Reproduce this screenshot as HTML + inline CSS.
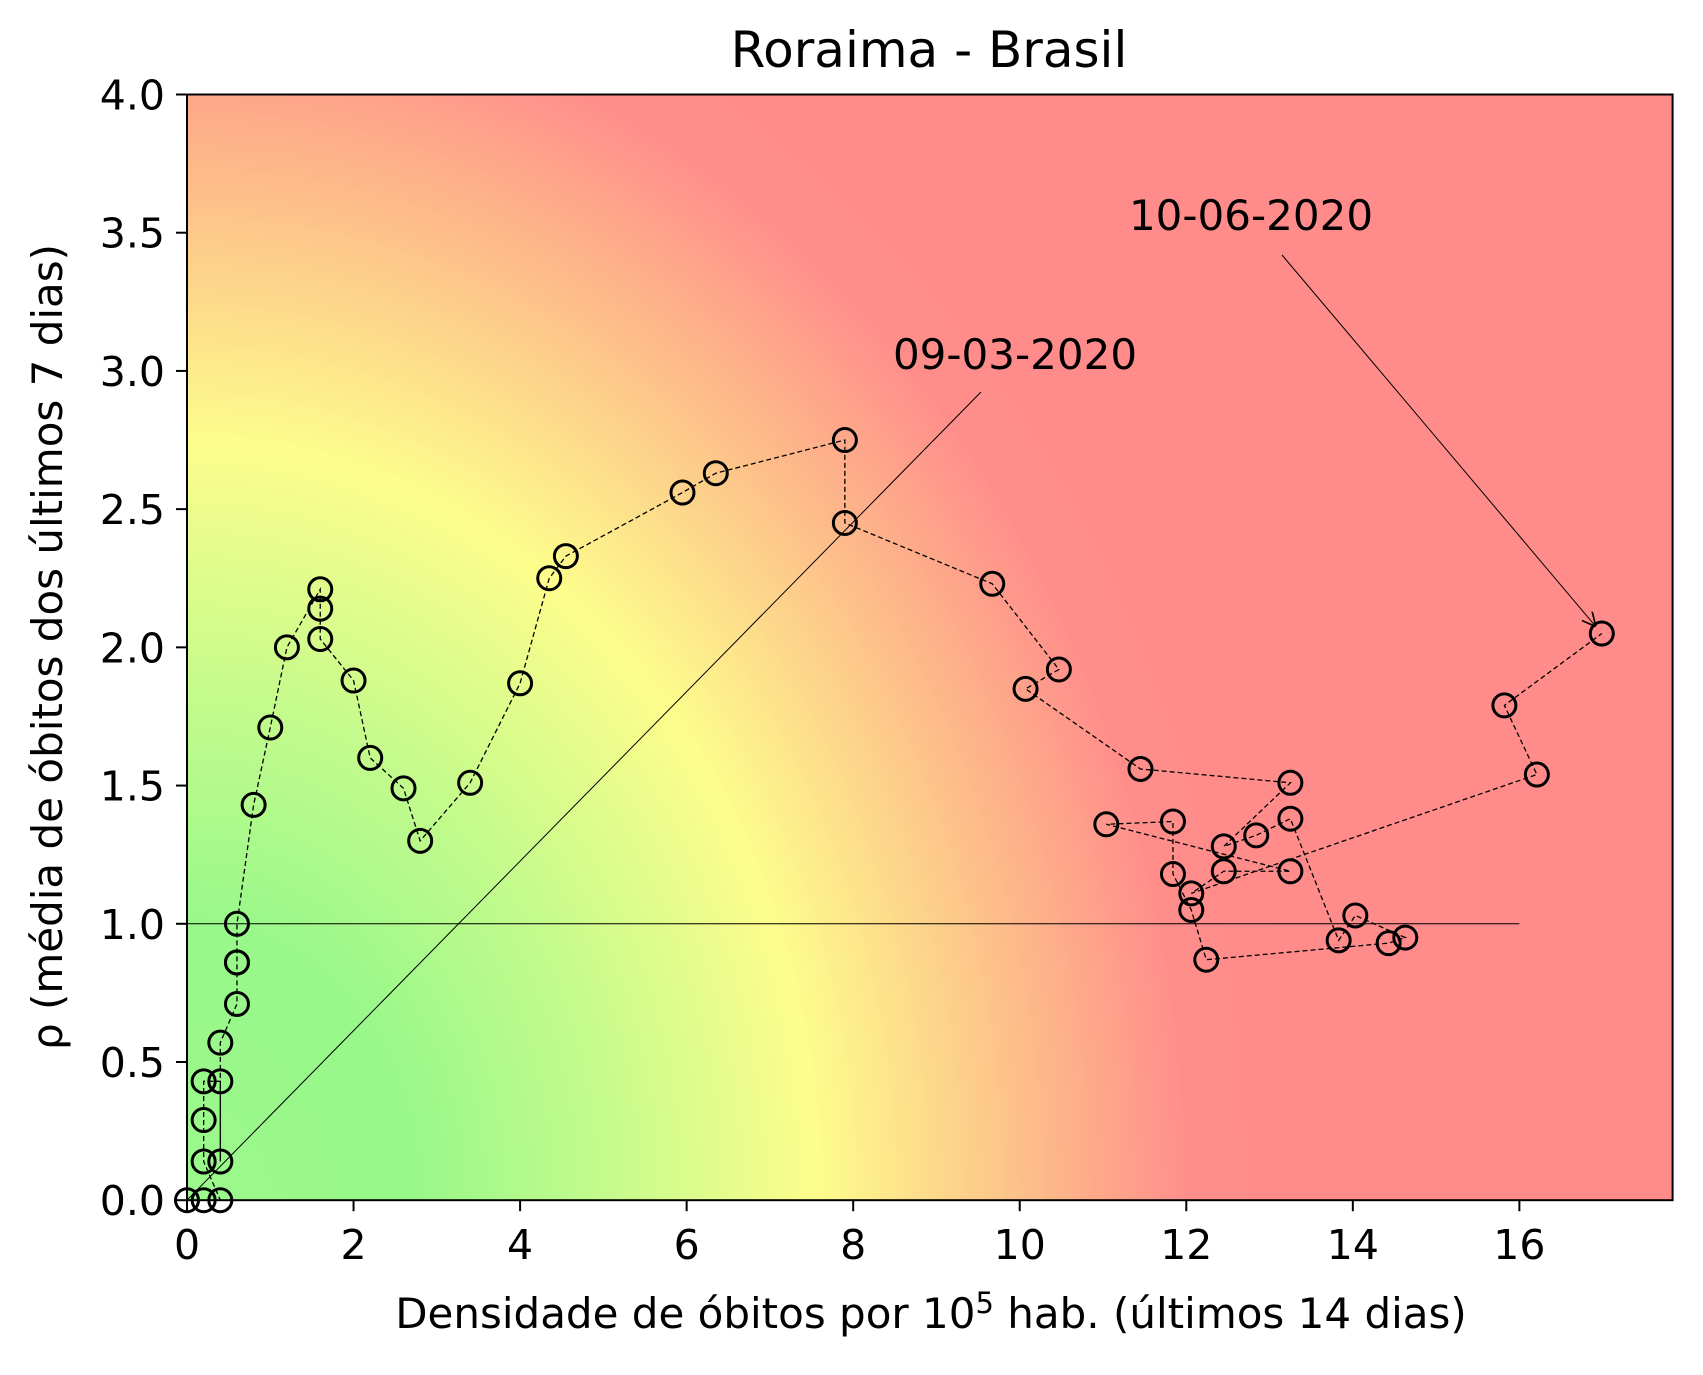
<!DOCTYPE html>
<html><head><meta charset="utf-8"><style>
body{margin:0;background:#fff;}
svg text{font-family:"DejaVu Sans","Liberation Sans",sans-serif;fill:#000;}
</style></head><body>
<svg id="chart" width="1703" height="1370" viewBox="0 0 1703 1370" xmlns="http://www.w3.org/2000/svg">
<defs>
<radialGradient id="bg" gradientUnits="userSpaceOnUse" cx="0" cy="0" r="1" fx="0" fy="0">
<stop offset="0" stop-color="#9cf98c"/>
<stop offset="0.2" stop-color="#98f88a"/>
<stop offset="0.38" stop-color="#c6fb8c"/>
<stop offset="0.56" stop-color="#fdfd8c"/>
<stop offset="0.75" stop-color="#fdbd8a"/>
<stop offset="0.89" stop-color="#ff8e8b"/>
<stop offset="1" stop-color="#ff8b8b"/>
</radialGradient>
<marker id="ah" viewBox="0 0 10 10" refX="10" refY="5" markerWidth="14" markerHeight="14" markerUnits="userSpaceOnUse" orient="auto">
<path d="M0,0 L10,5 L0,10" fill="none" stroke="#000" stroke-width="1.2"/>
</marker>
</defs>
<text x="929" y="67" font-size="50" text-anchor="middle">Roraima - Brasil</text>
<rect id="plotbg" fill="url(#bg)"/>
<g id="marks"></g>
<g id="axes"></g>
<text x="931" y="1328" font-size="42" text-anchor="middle">Densidade de óbitos por 10<tspan dy="-15" font-size="29">5</tspan><tspan dy="15"> hab. (últimos 14 dias)</tspan></text>
<text transform="translate(62,647) rotate(-90)" font-size="42" text-anchor="middle">ρ (média de óbitos dos últimos 7 dias)</text>
</svg>
<script>
const xs=[0,0.2,0.4,0.2,0.2,0.2,0.4,0.4,0.4,0.6,0.6,0.6,0.6,0.8,1.0,1.2,1.6,1.6,1.6,2.0,2.2,2.6,2.8,3.4,4.0,4.35,4.55,5.95,6.35,7.9,7.9,9.67,10.47,10.07,11.45,13.25,12.45,12.84,13.25,13.83,14.03,14.63,14.43,12.24,12.06,11.84,11.84,11.04,13.25,12.45,12.06,16.21,15.82,16.99];
const ys=[0,0,0,0.14,0.29,0.43,0.43,0.14,0.57,0.71,0.86,0.86,1.0,1.43,1.71,2.0,2.21,2.14,2.03,1.88,1.6,1.49,1.3,1.51,1.87,2.25,2.33,2.56,2.63,2.75,2.45,2.23,1.92,1.85,1.56,1.51,1.28,1.32,1.38,0.94,1.03,0.95,0.93,0.87,1.05,1.18,1.37,1.36,1.19,1.19,1.11,1.54,1.79,2.05];
const xTicks=[0,2,4,6,8,10,12,14,16];
const yTicks=[0,0.5,1,1.5,2,2.5,3,3.5,4];
const xMax=17.84, yMax=4;
const L=187,R=1672.6,T=94.5,B=1200.2;
const sx=v=>L+(R-L)*v/xMax, sy=v=>B-(B-T)*v/yMax;
const NS="http://www.w3.org/2000/svg";
function mk(t,a,p){const e=document.createElementNS(NS,t);for(const k in a)e.setAttribute(k,a[k]);p.appendChild(e);return e;}
const bg=document.getElementById('plotbg');
bg.setAttribute('x',L);bg.setAttribute('y',T);bg.setAttribute('width',R-L);bg.setAttribute('height',B-T);
const g=document.getElementById('bg');
g.setAttribute('gradientTransform',`translate(${sx(0)},${sy(0)}) scale(${sx(13.5)-sx(0)},${sy(0)-sy(4.9)})`);
const m=document.getElementById('marks');
const hl=mk('line',{x1:sx(0),y1:sy(1),x2:sx(16),y2:sy(1),stroke:'#000','stroke-width':1},m);


const a1=mk('line',{x1:981,y1:392,x2:sx(xs[0]),y2:sy(ys[0]),stroke:'#000','stroke-width':1},m);


const a2=mk('line',{x1:1282,y1:255,x2:sx(xs[xs.length-1])-6,y2:sy(ys[ys.length-1])-7,stroke:'#000','stroke-width':1,'marker-end':'url(#ah)'},m);


const t1=mk('text',{x:1015,y:369,'font-size':42,'text-anchor':'middle'},m);t1.textContent='09-03-2020';


const t2=mk('text',{x:1251,y:230,'font-size':42,'text-anchor':'middle'},m);t2.textContent='10-06-2020';


const pl=mk('polyline',{points:xs.map((x,i)=>sx(x)+','+sy(ys[i])).join(' '),fill:'none',stroke:'#000','stroke-width':1.3,'stroke-dasharray':'5,3'},m);


xs.forEach((x,i)=>{const c=mk('circle',{cx:sx(x),cy:sy(ys[i]),r:11.5,fill:'none',stroke:'#000','stroke-width':3},m);

});
const ax=document.getElementById('axes');
const fr=mk('rect',{x:L,y:T,width:R-L,height:B-T,fill:'none',stroke:'#000','stroke-width':2},ax);


xTicks.forEach(v=>{mk('line',{x1:sx(v),y1:B,x2:sx(v),y2:B+11,stroke:'#000','stroke-width':2},ax);
const t=mk('text',{x:sx(v),y:B+59,'font-size':41,'text-anchor':'middle'},ax);t.textContent=v;

});
yTicks.forEach(v=>{mk('line',{x1:L-11,y1:sy(v),x2:L,y2:sy(v),stroke:'#000','stroke-width':2},ax);
const t=mk('text',{x:L-22,y:sy(v)+15,'font-size':41,'text-anchor':'end'},ax);t.textContent=v.toFixed(1);

});
</script>
</body></html>
